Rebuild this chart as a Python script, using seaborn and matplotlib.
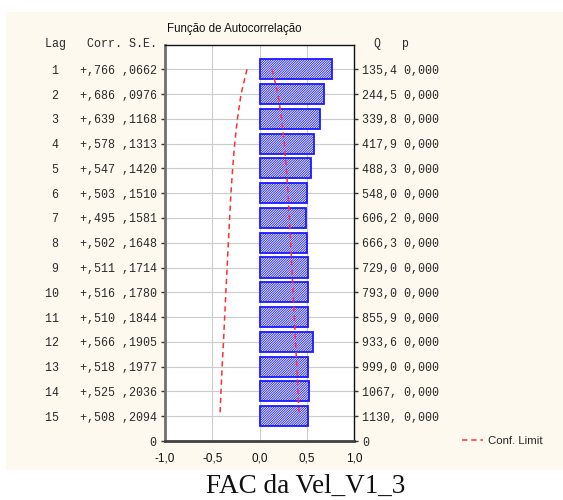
import numpy as np
import matplotlib
matplotlib.use("Agg")
import matplotlib.pyplot as plt
from matplotlib.patches import Rectangle
from matplotlib.lines import Line2D
import seaborn as sns

# Autocorrelation table
lags = [1, 2, 3, 4, 5, 6, 7, 8, 9, 10, 11, 12, 13, 14, 15]
corr = [0.766, 0.686, 0.639, 0.578, 0.547, 0.503, 0.495, 0.502,
        0.511, 0.516, 0.510, 0.566, 0.518, 0.525, 0.508]
se = [0.0662, 0.0976, 0.1168, 0.1313, 0.1420, 0.1510, 0.1581, 0.1648,
      0.1714, 0.1780, 0.1844, 0.1905, 0.1977, 0.2036, 0.2094]
q_stat = [135.4, 244.5, 339.8, 417.9, 488.3, 548.0, 606.2, 666.3,
          729.0, 793.0, 855.9, 933.6, 999.0, 1067.0, 1130.0]
p_val = [0.0] * 15
x_ticks = [-1.0, -0.5, 0.0, 0.5, 1.0]

MONO = "Liberation Mono"
SANS = "Liberation Sans"
SERIF = "Liberation Serif"
TXT = "#2a2a2a"

sns.set_style("white")
plt.rcParams["hatch.linewidth"] = 0.6
plt.rcParams["hatch.color"] = "#1a1aff"

fig = plt.figure(figsize=(5.63, 5.00), dpi=100, facecolor="white")
fig.add_artist(Rectangle((6 / 563, 0.06), 1 - 6 / 563, 0.916,
                         transform=fig.transFigure, facecolor="#fdf9ef",
                         edgecolor="none", zorder=-10))

ax = fig.add_axes([165 / 563, 0.118, 189 / 563, 0.793])
ax.set_facecolor("white")

n = len(lags)
pos = [n + 1 - k for k in lags]  # lag 1 at the top
se_arr = np.array(se)

sns.barplot(x=corr, y=pos, orient="y", native_scale=True, width=0.81,
            color="white", ax=ax, zorder=2)
for bar in ax.patches:
    bar.set_facecolor("white")
    bar.set_edgecolor("#1a1aff")
    bar.set_linewidth(1.3)
    bar.set_hatch("//////////////")

# confidence limits (+/- 2 S.E.)
ax.plot(2 * se_arr, pos, linestyle=(0, (3.5, 2.5)), color="#ff3030",
        linewidth=1.1, zorder=4, label="Conf. Limit")
ax.plot(-2 * se_arr, pos, linestyle=(0, (3.5, 2.5)), color="#ff3030",
        linewidth=1.1, zorder=4, label="_nolegend_")

ax.set_xlim(x_ticks[0], x_ticks[-1])
ax.set_ylim(0, n + 1)
ax.set_xlabel("")
ax.set_ylabel("")
ax.set_axisbelow(True)

# grid
for xv in x_ticks[1:-1]:
    ax.axvline(xv, color="#cccccc", linewidth=0.8, zorder=0)
for yv in pos:
    ax.axhline(yv, color="#cccccc", linewidth=0.8, zorder=0)

# x axis
ax.set_xticks(x_ticks)
ax.set_xticklabels([f"{v:.1f}".replace(".", ",") for v in x_ticks],
                   fontfamily=SANS, fontsize=8.5, color="#111111")
ax.tick_params(axis="x", length=0, pad=8)

# left table: Lag / Corr. / S.E.
def fmt_corr(c):
    return f"{c:+.3f}".replace("0.", ",")

def fmt_se(s):
    return f"{s:.4f}".replace("0.", ",")

left_labels = ["0"] + [f"{k:>2}   {fmt_corr(c)} {fmt_se(s)}"
                       for k, c, s in zip(lags, corr, se)]
ax.set_yticks([0] + pos)
ax.set_yticklabels(left_labels, fontfamily=MONO, fontsize=8.4, color=TXT)
ax.tick_params(axis="y", left=True, length=3, width=1, color="#333333",
               pad=3)

# right table: Q / p
ax2 = ax.twinx()
ax2.set_ylim(ax.get_ylim())
def fmt_q(v):
    return f"{v:.1f}".replace(".", ",")[:5]

right_labels = ["0"] + [f"{fmt_q(v)} {pv:.3f}".replace(".", ",")
                        for v, pv in zip(q_stat, p_val)]
ax2.set_yticks([0] + pos)
ax2.set_yticklabels(right_labels, fontfamily=MONO, fontsize=8.4, color=TXT)
ax2.tick_params(axis="y", right=True, length=3, width=1, color="#333333",
                pad=3)
ax2.grid(False)

# spines
for a in (ax, ax2):
    for s in a.spines.values():
        s.set_visible(False)
ax.spines["left"].set_visible(True)
ax.spines["left"].set_color("#707070")
ax.spines["left"].set_linewidth(2)
ax.spines["bottom"].set_visible(True)
ax.spines["bottom"].set_color("#404040")
ax.spines["bottom"].set_linewidth(2)
ax.spines["top"].set_visible(True)
ax.spines["top"].set_color("#111111")
ax.spines["top"].set_linewidth(1)
ax.spines["right"].set_visible(True)
ax.spines["right"].set_color("#111111")
ax.spines["right"].set_linewidth(1)

# column headers
ax.annotate("Lag   Corr. S.E.", xy=(0, n + 1), xycoords=("axes fraction", "data"),
            xytext=(-6, 0), textcoords="offset points", ha="right",
            va="center", fontfamily=MONO, fontsize=8.4, color=TXT)
ax.annotate("  Q   p", xy=(1, n + 1), xycoords=("axes fraction", "data"),
            xytext=(4.3, 0), textcoords="offset points", ha="left",
            va="center", fontfamily=MONO, fontsize=8.4, color=TXT)

# chart title
fig.text(167 / 563, 1 - 29 / 500, "Função de Autocorrelação",
         fontfamily=SANS, fontsize=8.3, ha="left", va="center",
         color="#111111")

# legend
fig.legend(handles=[Line2D([], [], linestyle=(0, (3.5, 2.5)),
                           color="#ff3030", linewidth=1.1)],
           labels=["Conf. Limit"], loc="center left",
           bbox_to_anchor=(452 / 563, 1 - 441 / 500), frameon=False,
           prop={"family": SANS, "size": 8.2}, handlelength=1.8,
           handletextpad=0.5)

# caption
fig.text(306 / 563, 1 - 486 / 500, "FAC da Vel_V1_3", fontfamily=SERIF,
         fontsize=19.5, ha="center", va="center", color="#111111")

fig.savefig("out.png", dpi=100, facecolor="white")
